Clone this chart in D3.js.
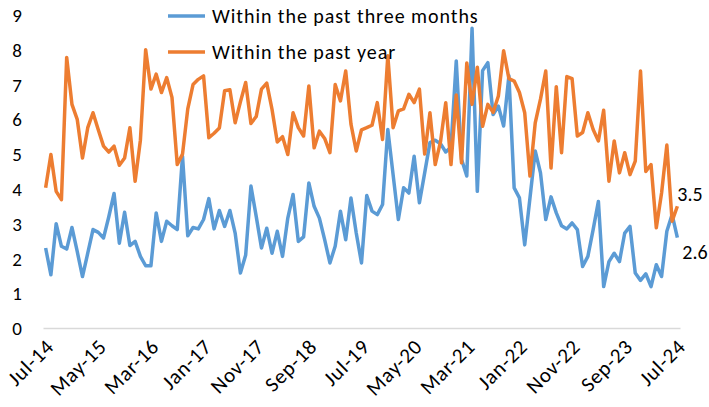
<!DOCTYPE html>
<html><head><meta charset="utf-8">
<script src="https://cdn.jsdelivr.net/npm/d3@7"></script>
<style>
body{margin:0;background:#fff;}
svg text{font-family:Carlito,Lato,"Open Sans",sans-serif;fill:#000;}
</style></head>
<body>
<svg id="c" width="709" height="407"></svg>
<script>
const tickLabels = ["Jul-14","May-15","Mar-16","Jan-17","Nov-17","Sep-18","Jul-19","May-20","Mar-21","Jan-22","Nov-22","Sep-23","Jul-24"];
const yTicks = [0,1,2,3,4,5,6,7,8,9];
const seriesNames = ["Within the past three months","Within the past year"];
const pastThreeMonths = [2.30,1.53,3.0,2.35,2.27,2.89,2.2,1.48,2.15,2.83,2.75,2.59,3.2,3.87,2.44,3.33,2.37,2.49,2.06,1.79,
1.79,3.31,2.49,3.07,2.94,2.83,4.94,2.65,2.89,2.85,3.12,3.72,2.85,3.38,2.92,3.38,2.73,1.58,2.1,4.08,
3.21,2.3,2.87,2.15,2.78,2.06,3.16,3.84,2.49,2.62,4.17,3.5,3.16,2.54,1.87,2.35,3.36,2.54,3.74,2.73,
1.87,3.81,3.36,3.26,3.55,5.71,4.41,3.12,4.03,3.88,4.94,3.6,4.46,5.33,5.4,5.3,5.06,5.2,7.68,4.85,
4.37,8.62,3.93,7.4,7.63,6.14,6.38,5.81,7.25,4.03,3.74,2.39,3.74,5.09,4.46,3.12,3.77,3.31,2.94,2.85,
3.02,2.83,1.77,2.06,2.83,3.64,1.19,1.91,2.15,1.91,2.73,2.92,1.58,1.37,1.56,1.19,1.82,1.48,2.78,3.26,2.6];
const pastYear = [4.03,4.99,3.93,3.69,7.78,6.43,6.0,4.89,5.76,6.19,5.7,5.23,5.06,5.23,4.68,4.89,5.76,4.22,5.4,8.0,
6.87,7.3,6.77,7.2,6.63,4.7,5.0,6.3,7.0,7.15,7.25,5.47,5.6,5.75,6.82,6.85,5.9,6.5,7.06,5.88,
6.08,6.87,7.04,6.29,5.35,5.5,4.99,6.19,5.76,5.52,6.96,5.18,5.66,5.45,5.04,7.0,6.53,7.39,5.86,5.09,
5.7,5.76,5.83,6.48,5.42,7.83,5.76,6.24,6.3,6.72,6.48,6.87,5.0,6.19,4.7,5.35,6.48,4.7,6.7,4.75,
7.62,6.43,7.5,5.8,6.43,6.2,6.67,7.97,7.17,7.1,6.77,6.19,4.37,5.9,6.58,7.39,4.6,6.94,5.04,7.23,
7.17,5.52,5.62,6.19,5.71,5.38,6.26,4.22,5.38,4.46,5.04,4.41,4.8,7.39,4.5,4.7,2.88,3.88,5.26,3.07,3.5];
const endLabels = ["2.6","3.5"];
const colors = ["#5B9BD5","#ED7D31"];

const fmt = d3.timeFormat("%b-%y");
const categories = d3.timeMonth.range(new Date(2014,6,1), new Date(2024,7,1)).map(fmt);

const svg = d3.select("#c");
const x = d3.scalePoint().domain(categories).range([43,680]).padding(0.5);
const y = d3.scaleLinear().domain([0,9]).range([328,15]);

// x axis
const xa = svg.append("g").attr("transform","translate(0,328)")
  .call(d3.axisBottom(x).tickValues(tickLabels).tickSize(0).tickPadding(0));
xa.select(".domain").attr("stroke","#d9d9d9").attr("stroke-width",1.5);
xa.selectAll("text").attr("font-size","21px").attr("text-anchor","end")
  .attr("letter-spacing","0.8px")
  .attr("x",0).attr("y",0).attr("dy",0)
  .attr("transform","translate(9,20) rotate(-45)");

// y axis
const ya = svg.append("g").attr("transform","translate(30,0)")
  .call(d3.axisLeft(y).tickValues(yTicks).tickSize(0).tickPadding(8));
ya.select(".domain").remove();
ya.selectAll("text").attr("font-size","19px").attr("dy","0.35em");

const line = d3.line().x((d,i)=>x(categories[i])).y(d=>y(d));
[pastThreeMonths,pastYear].forEach((s,k)=>{
  svg.append("path").datum(s).attr("d",line).attr("fill","none")
    .attr("stroke",colors[k]).attr("stroke-width",3.5).attr("stroke-linejoin","round");
});
// end labels
svg.append("text").attr("x",x(categories[120])+0).attr("y",y(pastYear[120])-12)
  .attr("font-size","20px").attr("dy","0.35em").text(endLabels[1]);
svg.append("text").attr("x",x(categories[120])+5).attr("y",y(pastThreeMonths[120])+14)
  .attr("font-size","20px").attr("dy","0.35em").text(endLabels[0]);

// legend
const lg = svg.append("g");
seriesNames.forEach((n,k)=>{
  const yy = 16 + k*36;
  lg.append("line").attr("x1",168).attr("x2",205).attr("y1",yy).attr("y2",yy)
    .attr("stroke",colors[k]).attr("stroke-width",3.5);
  lg.append("text").attr("x",212).attr("y",yy).attr("dy","0.35em").attr("font-size","20px")
    .attr("letter-spacing","0.95px").text(n);
});
</script>
</body></html>
